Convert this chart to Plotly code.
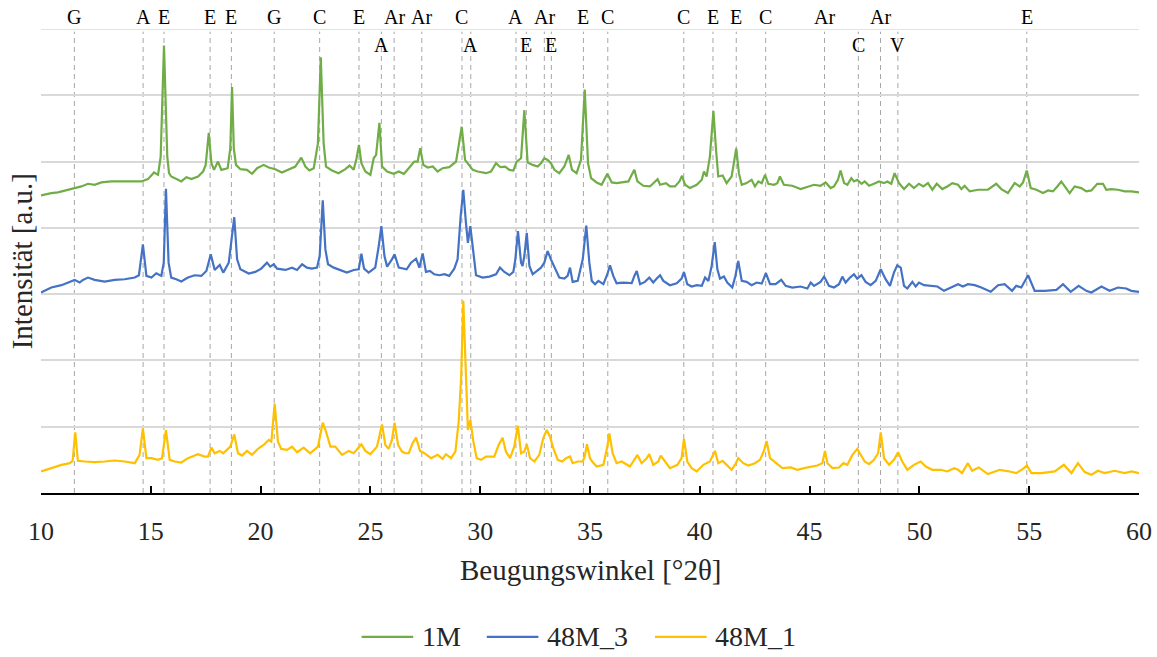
import plotly.graph_objects as go

# --- diffraction patterns (2theta in degrees, intensity in stacked arbitrary units) ---
x_1m = [10.0, 10.47, 10.77, 11.08, 11.53, 11.84, 12.14, 12.44, 12.75, 13.2, 13.66, 14.11, 14.57, 14.87,
        15.15, 15.33, 15.45, 15.6, 15.75, 15.83, 15.93, 16.24, 16.39, 16.62, 16.85, 17.15, 17.38, 17.5,
        17.64, 17.76, 17.88, 18.06, 18.21, 18.5, 18.62, 18.7, 18.78, 18.88, 19.08, 19.38, 19.61, 19.84,
        20.14, 20.37, 20.67, 20.97, 21.28, 21.58, 21.85, 22.04, 22.22, 22.42, 22.61, 22.74, 22.87, 22.98,
        23.25, 23.55, 23.86, 24.05, 24.24, 24.37, 24.48, 24.59, 24.77, 25.0, 25.15, 25.26, 25.41, 25.53,
        25.76, 26.06, 26.29, 26.52, 26.62, 27.0, 27.15, 27.27, 27.41, 27.61, 27.84, 28.06, 28.29, 28.59,
        28.9, 29.05, 29.16, 29.31, 29.48, 29.66, 29.88, 30.26, 30.49, 30.72, 30.92, 31.14, 31.33, 31.51,
        31.66, 31.86, 32.01, 32.16, 32.39, 32.62, 32.77, 32.92, 33.07, 33.22, 33.38, 33.6, 33.83, 34.03,
        34.18, 34.39, 34.59, 34.76, 34.91, 35.05, 35.3, 35.53, 35.79, 35.99, 36.21, 36.52, 36.75, 36.9,
        37.02, 37.16, 37.43, 37.73, 37.96, 38.08, 38.19, 38.46, 38.64, 38.87, 39.07, 39.19, 39.33, 39.55,
        39.86, 40.09, 40.19, 40.31, 40.46, 40.62, 40.74, 40.84, 41.04, 41.22, 41.45, 41.56, 41.66, 41.78,
        41.91, 42.13, 42.36, 42.51, 42.67, 42.82, 42.97, 43.12, 43.38, 43.53, 43.65, 43.83, 44.21, 44.59,
        44.9, 45.2, 45.5, 45.73, 45.96, 46.11, 46.29, 46.41, 46.57, 46.72, 46.9, 47.02, 47.17, 47.36,
        47.51, 47.71, 47.93, 48.16, 48.39, 48.54, 48.72, 48.87, 49.07, 49.3, 49.53, 49.75, 49.98, 50.18,
        50.39, 50.59, 50.79, 51.04, 51.27, 51.5, 51.76, 51.91, 52.06, 52.29, 52.67, 53.12, 53.5, 53.73,
        54.03, 54.34, 54.57, 54.72, 54.89, 55.07, 55.33, 55.63, 55.86, 56.08, 56.28, 56.46, 56.62, 56.84,
        57.07, 57.37, 57.6, 57.83, 58.1, 58.36, 58.51, 58.74, 59.04, 59.35, 59.65, 60.0]
y_1m = [4.49, 4.525, 4.535, 4.565, 4.6, 4.625, 4.665, 4.65, 4.685, 4.7, 4.7, 4.7, 4.7, 4.735,
        4.835, 4.8, 5.075, 6.75, 5.075, 4.825, 4.775, 4.725, 4.7, 4.765, 4.735, 4.775, 4.85, 4.95,
        5.435, 4.975, 4.875, 5.0, 4.875, 4.9, 5.2, 6.125, 5.2, 4.95, 4.885, 4.875, 4.815, 4.9,
        4.95, 4.91, 4.885, 4.835, 4.875, 4.925, 5.06, 4.925, 4.865, 4.9, 5.275, 6.575, 5.275, 4.925,
        4.865, 4.825, 4.885, 4.94, 4.875, 5.05, 5.25, 4.975, 4.85, 4.8, 5.05, 5.1, 5.585, 4.925,
        4.85, 4.815, 4.85, 4.815, 4.85, 5.0, 5.0, 5.2, 4.95, 4.91, 4.925, 4.85, 4.9, 4.915,
        5.0, 5.275, 5.525, 5.025, 4.95, 4.875, 4.85, 4.825, 4.85, 4.975, 4.915, 4.925, 4.875, 4.865,
        5.0, 5.05, 5.775, 4.985, 4.95, 4.925, 4.975, 5.05, 5.025, 4.975, 4.875, 4.825, 4.925, 5.1,
        4.875, 4.825, 5.025, 6.085, 4.975, 4.75, 4.685, 4.65, 4.815, 4.685, 4.675, 4.685, 4.7, 4.8,
        4.875, 4.7, 4.635, 4.625, 4.7, 4.735, 4.65, 4.675, 4.625, 4.625, 4.7, 4.785, 4.65, 4.6,
        4.65, 4.725, 4.85, 4.775, 5.075, 5.76, 5.175, 4.775, 4.79, 4.675, 4.775, 4.975, 5.2, 4.825,
        4.65, 4.675, 4.725, 4.625, 4.7, 4.675, 4.8, 4.665, 4.65, 4.675, 4.775, 4.65, 4.635, 4.585,
        4.615, 4.65, 4.635, 4.685, 4.6, 4.625, 4.725, 4.865, 4.675, 4.65, 4.75, 4.7, 4.725, 4.665,
        4.7, 4.635, 4.665, 4.7, 4.675, 4.7, 4.665, 4.825, 4.675, 4.585, 4.665, 4.6, 4.665, 4.625,
        4.675, 4.575, 4.665, 4.585, 4.625, 4.675, 4.65, 4.585, 4.635, 4.55, 4.575, 4.575, 4.665, 4.585,
        4.525, 4.675, 4.625, 4.685, 4.865, 4.6, 4.575, 4.525, 4.565, 4.55, 4.625, 4.7, 4.625, 4.525,
        4.625, 4.6, 4.55, 4.565, 4.665, 4.665, 4.575, 4.585, 4.575, 4.55, 4.55, 4.535]

x_48m3 = [10.0, 10.47, 10.93, 11.23, 11.53, 11.76, 11.91, 12.14, 12.44, 12.9, 13.35, 13.81, 14.27, 14.46,
          14.64, 14.8, 15.03, 15.25, 15.48, 15.59, 15.69, 15.81, 15.93, 16.16, 16.39, 16.69, 17.0, 17.3,
          17.53, 17.73, 17.91, 18.14, 18.3, 18.55, 18.7, 18.8, 18.93, 19.08, 19.46, 19.76, 20.03, 20.29,
          20.44, 20.6, 20.75, 21.13, 21.43, 21.66, 21.89, 22.11, 22.34, 22.57, 22.69, 22.83, 22.95, 23.07,
          23.33, 23.63, 23.93, 24.24, 24.47, 24.59, 24.71, 24.92, 25.22, 25.38, 25.5, 25.64, 25.76, 25.98,
          26.1, 26.29, 26.52, 26.65, 26.85, 27.08, 27.23, 27.38, 27.53, 27.71, 27.91, 28.14, 28.37, 28.59,
          28.82, 28.97, 29.11, 29.23, 29.35, 29.44, 29.55, 29.66, 29.81, 30.11, 30.42, 30.72, 30.9, 31.1,
          31.33, 31.51, 31.6, 31.72, 31.86, 31.93, 32.01, 32.12, 32.24, 32.39, 32.62, 32.77, 32.92, 33.07,
          33.22, 33.38, 33.6, 33.83, 33.98, 34.09, 34.21, 34.44, 34.67, 34.83, 34.97, 35.08, 35.23, 35.38,
          35.61, 35.79, 35.91, 36.06, 36.21, 36.52, 36.9, 37.02, 37.13, 37.28, 37.5, 37.7, 37.88, 38.04,
          38.19, 38.34, 38.64, 38.95, 39.17, 39.28, 39.43, 39.63, 39.86, 40.09, 40.24, 40.39, 40.54, 40.68,
          40.8, 40.92, 41.1, 41.25, 41.48, 41.62, 41.75, 41.91, 42.13, 42.36, 42.59, 42.82, 43.01, 43.2,
          43.45, 43.71, 43.91, 44.21, 44.59, 44.9, 45.05, 45.2, 45.5, 45.66, 45.88, 46.11, 46.34, 46.49,
          46.64, 46.84, 47.02, 47.17, 47.36, 47.55, 47.78, 48.01, 48.24, 48.46, 48.66, 48.84, 48.99, 49.15,
          49.3, 49.45, 49.68, 49.83, 49.98, 50.21, 50.51, 50.82, 51.12, 51.42, 51.76, 51.98, 52.21, 52.52,
          52.82, 53.25, 53.58, 53.88, 54.22, 54.41, 54.64, 54.95, 55.25, 55.71, 56.24, 56.54, 56.89, 57.25,
          57.6, 57.83, 58.29, 58.66, 59.04, 59.42, 59.65, 60.0]
y_48m3 = [3.025, 3.1, 3.135, 3.175, 3.215, 3.175, 3.215, 3.25, 3.215, 3.19, 3.215, 3.225, 3.25, 3.285,
          3.75, 3.275, 3.25, 3.315, 3.275, 3.475, 4.59, 3.475, 3.25, 3.225, 3.19, 3.25, 3.285, 3.275,
          3.35, 3.6, 3.365, 3.44, 3.325, 3.475, 3.875, 4.16, 3.525, 3.375, 3.31, 3.335, 3.385, 3.475,
          3.415, 3.45, 3.385, 3.365, 3.4, 3.365, 3.45, 3.4, 3.385, 3.4, 3.575, 4.415, 3.675, 3.45,
          3.4, 3.365, 3.325, 3.365, 3.375, 3.61, 3.385, 3.325, 3.4, 3.725, 4.025, 3.575, 3.415, 3.525,
          3.6, 3.4, 3.385, 3.375, 3.475, 3.535, 3.4, 3.615, 3.335, 3.35, 3.3, 3.285, 3.3, 3.275,
          3.385, 3.525, 4.175, 4.575, 4.075, 3.775, 4.025, 3.675, 3.285, 3.25, 3.265, 3.3, 3.4, 3.335,
          3.285, 3.335, 3.525, 3.95, 3.475, 3.425, 3.575, 3.925, 3.425, 3.3, 3.365, 3.4, 3.475, 3.65,
          3.525, 3.4, 3.25, 3.235, 3.275, 3.4, 3.185, 3.2, 3.525, 4.035, 3.475, 3.2, 3.15, 3.2,
          3.15, 3.3, 3.435, 3.275, 3.165, 3.175, 3.165, 3.275, 3.35, 3.15, 3.185, 3.25, 3.175, 3.235,
          3.285, 3.2, 3.135, 3.165, 3.235, 3.335, 3.15, 3.115, 3.135, 3.125, 3.25, 3.2, 3.425, 3.785,
          3.375, 3.235, 3.265, 3.175, 3.1, 3.275, 3.5, 3.2, 3.185, 3.135, 3.175, 3.16, 3.315, 3.15,
          3.15, 3.215, 3.125, 3.1, 3.115, 3.085, 3.175, 3.125, 3.185, 3.265, 3.125, 3.1, 3.15, 3.265,
          3.175, 3.25, 3.3, 3.235, 3.285, 3.185, 3.135, 3.2, 3.375, 3.225, 3.125, 3.325, 3.435, 3.4,
          3.125, 3.085, 3.185, 3.115, 3.175, 3.135, 3.125, 3.115, 3.05, 3.1, 3.15, 3.115, 3.15, 3.135,
          3.1, 3.035, 3.135, 3.15, 3.05, 3.125, 3.1, 3.285, 3.05, 3.05, 3.065, 3.15, 3.035, 3.125,
          3.05, 3.025, 3.115, 3.05, 3.1, 3.085, 3.05, 3.035]

x_48m1 = [10.0, 10.47, 10.93, 11.31, 11.44, 11.56, 11.68, 11.99, 12.44, 12.9, 13.35, 13.81, 14.27, 14.49,
          14.64, 14.8, 15.03, 15.33, 15.51, 15.69, 15.86, 16.09, 16.39, 16.69, 17.15, 17.45, 17.6, 17.76,
          17.91, 18.14, 18.3, 18.62, 18.8, 18.97, 19.15, 19.38, 19.61, 19.91, 20.14, 20.37, 20.49, 20.64,
          20.79, 20.94, 21.2, 21.43, 21.66, 21.96, 22.26, 22.61, 22.72, 22.83, 22.98, 23.18, 23.4, 23.71,
          24.01, 24.24, 24.44, 24.59, 24.77, 25.0, 25.3, 25.53, 25.68, 25.83, 25.98, 26.1, 26.26, 26.44,
          26.59, 26.75, 26.92, 27.08, 27.26, 27.46, 27.76, 28.06, 28.29, 28.44, 28.67, 28.87, 29.02, 29.13,
          29.23, 29.32, 29.44, 29.55, 29.69, 29.84, 30.04, 30.26, 30.45, 30.64, 30.84, 31.02, 31.17, 31.36,
          31.55, 31.71, 31.86, 32.01, 32.12, 32.27, 32.47, 32.69, 32.87, 33.03, 33.18, 33.33, 33.53, 33.73,
          33.91, 34.09, 34.21, 34.44, 34.67, 34.76, 34.86, 35.0, 35.1, 35.3, 35.61, 35.79, 35.88, 36.03,
          36.21, 36.44, 36.82, 37.02, 37.16, 37.35, 37.58, 37.7, 37.88, 38.11, 38.22, 38.42, 38.64, 38.98,
          39.17, 39.28, 39.43, 39.63, 39.86, 40.16, 40.46, 40.69, 40.84, 41.04, 41.22, 41.45, 41.65, 41.75,
          41.98, 42.21, 42.51, 42.74, 42.92, 43.04, 43.2, 43.4, 43.76, 44.14, 44.44, 44.75, 45.05, 45.35,
          45.58, 45.7, 45.81, 46.04, 46.34, 46.54, 46.72, 46.95, 47.17, 47.33, 47.51, 47.71, 47.93, 48.12,
          48.24, 48.39, 48.62, 48.84, 49.03, 49.22, 49.45, 49.75, 50.06, 50.29, 50.59, 50.97, 51.27, 51.58,
          51.76, 51.94, 52.21, 52.4, 52.7, 53.12, 53.66, 54.11, 54.41, 54.72, 54.89, 55.1, 55.55, 56.16,
          56.58, 56.92, 57.22, 57.53, 57.83, 58.13, 58.44, 58.89, 59.35, 59.65, 60.0]
y_48m1 = [0.325, 0.375, 0.425, 0.45, 0.485, 0.915, 0.485, 0.475, 0.465, 0.475, 0.49, 0.475, 0.45, 0.575,
          0.975, 0.525, 0.525, 0.5, 0.525, 0.95, 0.5, 0.475, 0.46, 0.525, 0.585, 0.55, 0.55, 0.685,
          0.6, 0.635, 0.6, 0.7, 0.885, 0.6, 0.565, 0.635, 0.575, 0.675, 0.725, 0.8, 0.775, 1.35,
          0.775, 0.665, 0.65, 0.7, 0.615, 0.685, 0.6, 0.7, 0.875, 1.06, 0.925, 0.7, 0.7, 0.575,
          0.635, 0.6, 0.675, 0.735, 0.635, 0.585, 0.7, 1.035, 0.725, 0.665, 0.8, 1.06, 0.725, 0.625,
          0.6, 0.6, 0.75, 0.835, 0.635, 0.6, 0.525, 0.575, 0.515, 0.585, 0.525, 0.625, 1.075, 1.725,
          2.9, 2.175, 0.95, 1.1, 0.775, 0.525, 0.5, 0.55, 0.55, 0.55, 0.725, 0.835, 0.625, 0.525,
          0.7, 1.015, 0.6, 0.625, 0.735, 0.525, 0.475, 0.575, 0.825, 0.95, 0.85, 0.675, 0.5, 0.475,
          0.525, 0.55, 0.45, 0.475, 0.475, 0.55, 0.735, 0.525, 0.475, 0.4, 0.425, 0.7, 0.9, 0.6,
          0.45, 0.475, 0.4, 0.5, 0.575, 0.45, 0.525, 0.585, 0.425, 0.475, 0.565, 0.475, 0.375, 0.425,
          0.525, 0.815, 0.475, 0.375, 0.325, 0.425, 0.475, 0.635, 0.45, 0.485, 0.425, 0.35, 0.45, 0.525,
          0.45, 0.415, 0.45, 0.5, 0.635, 0.785, 0.525, 0.475, 0.375, 0.385, 0.35, 0.375, 0.4, 0.415,
          0.45, 0.635, 0.45, 0.375, 0.385, 0.45, 0.425, 0.575, 0.665, 0.575, 0.475, 0.435, 0.5, 0.6,
          0.915, 0.525, 0.425, 0.5, 0.615, 0.475, 0.35, 0.425, 0.475, 0.4, 0.35, 0.35, 0.325, 0.375,
          0.35, 0.3, 0.45, 0.335, 0.385, 0.285, 0.35, 0.325, 0.3, 0.365, 0.415, 0.3, 0.3, 0.325,
          0.425, 0.3, 0.45, 0.315, 0.275, 0.335, 0.3, 0.335, 0.3, 0.325, 0.3]

# --- phase reflections: position, letter, label row (1 = above frame, 2 = inside frame) ---
phase_pos = [11.52, 14.65, 15.6, 17.7, 18.67, 20.62, 22.69, 24.48, 25.5, 26.08, 27.34, 29.17, 29.57,
             31.63, 32.1, 32.92, 33.24, 34.7, 35.81, 39.27, 40.6, 41.66, 43.0, 45.68, 47.22, 48.23,
             49.02, 54.89]
phase_lbl = ["G", "A", "E", "E", "E", "G", "C", "E", "A", "Ar", "Ar", "C", "A",
             "A", "E", "Ar", "E", "E", "C", "C", "E", "E", "C", "Ar", "C", "Ar",
             "V", "E"]
phase_row = [1, 1, 1, 1, 1, 1, 1, 1, 2, 1, 1, 1, 2,
             1, 2, 1, 2, 1, 1, 1, 1, 1, 1, 1, 2, 1,
             2, 1]

series_names = ["1M", "48M_3", "48M_1"]
series_colors = ["#70AD47", "#4472C4", "#FFC000"]
series_x = [x_1m, x_48m3, x_48m1]
series_y = [y_1m, y_48m3, y_48m1]

x_ticks = [10, 15, 20, 25, 30, 35, 40, 45, 50, 55, 60]

FONT = "Times New Roman, Liberation Serif, serif"
TEXT = "#262626"
Y_TOP = 7

fig = go.Figure()
for name, col, xs, ys in zip(series_names, series_colors, series_x, series_y):
    fig.add_trace(go.Scatter(x=xs, y=ys, mode="lines", name=name, showlegend=False,
                             line=dict(color=col, width=2.2), hoverinfo="skip"))

# top grid line at the upper edge of the frame
fig.add_shape(type="line", x0=0, x1=1, y0=Y_TOP, y1=Y_TOP, xref="paper", yref="y",
              line=dict(color="#D9D9D9", width=1.5), layer="below")

# dashed reference lines for the assigned reflections
for p in phase_pos:
    fig.add_shape(type="line", x0=p, x1=p, y0=0, y1=Y_TOP - 0.04, xref="x", yref="y",
                  line=dict(color="#A6A6A6", width=1, dash="5px,4px"), layer="below")

# phase letters
for p, t, r in zip(phase_pos, phase_lbl, phase_row):
    fig.add_annotation(x=p, y=1.026 if r == 1 else 0.966, xref="x", yref="paper", text=t,
                       showarrow=False, font=dict(family=FONT, size=20, color="black"),
                       xanchor="center", yanchor="middle")

# axis titles
fig.add_annotation(x=0.5, y=-0.166, xref="paper", yref="paper", text="Beugungswinkel [°2θ]",
                   showarrow=False, font=dict(family=FONT, size=29, color=TEXT),
                   xanchor="center", yanchor="middle")
fig.add_annotation(x=-0.017, y=0.5, xref="paper", yref="paper", text="Intensität [a.u.]",
                   showarrow=False, textangle=-90, font=dict(family=FONT, size=29, color=TEXT),
                   xanchor="center", yanchor="middle")

# legend row below the axis title: line sample followed by the series name
leg_line_x0 = [0.2920, 0.4060, 0.5592]
LEG_LINE_W = 0.0470
LEG_Y = -0.310
for name, col, lx in zip(series_names, series_colors, leg_line_x0):
    fig.add_shape(type="line", x0=lx, x1=lx + LEG_LINE_W, y0=LEG_Y, y1=LEG_Y,
                  xref="paper", yref="paper", line=dict(color=col, width=2.2))
    fig.add_annotation(x=lx + LEG_LINE_W + 0.006, y=LEG_Y, xref="paper", yref="paper",
                       text=name, showarrow=False, xanchor="left", yanchor="middle",
                       font=dict(family=FONT, size=28, color=TEXT))

fig.update_layout(
    width=1157, height=657,
    margin=dict(l=41, r=18, t=29, b=164, autoexpand=False),
    paper_bgcolor="white", plot_bgcolor="white",
    font=dict(family=FONT, size=26, color=TEXT),
    showlegend=False,
    xaxis=dict(range=[10, 60], tickvals=x_ticks, ticks="inside", ticklen=7, tickwidth=1.5,
               tickcolor="black", showline=True, linecolor="black", linewidth=1.5,
               showgrid=False, zeroline=False, ticklabelstandoff=14,
               tickfont=dict(family=FONT, size=26, color=TEXT)),
    yaxis=dict(range=[0, Y_TOP], dtick=1, showticklabels=False, showgrid=True,
               gridcolor="#D9D9D9", gridwidth=1.5, zeroline=False, showline=False, ticks=""),
)

fig.write_html("out.html")
